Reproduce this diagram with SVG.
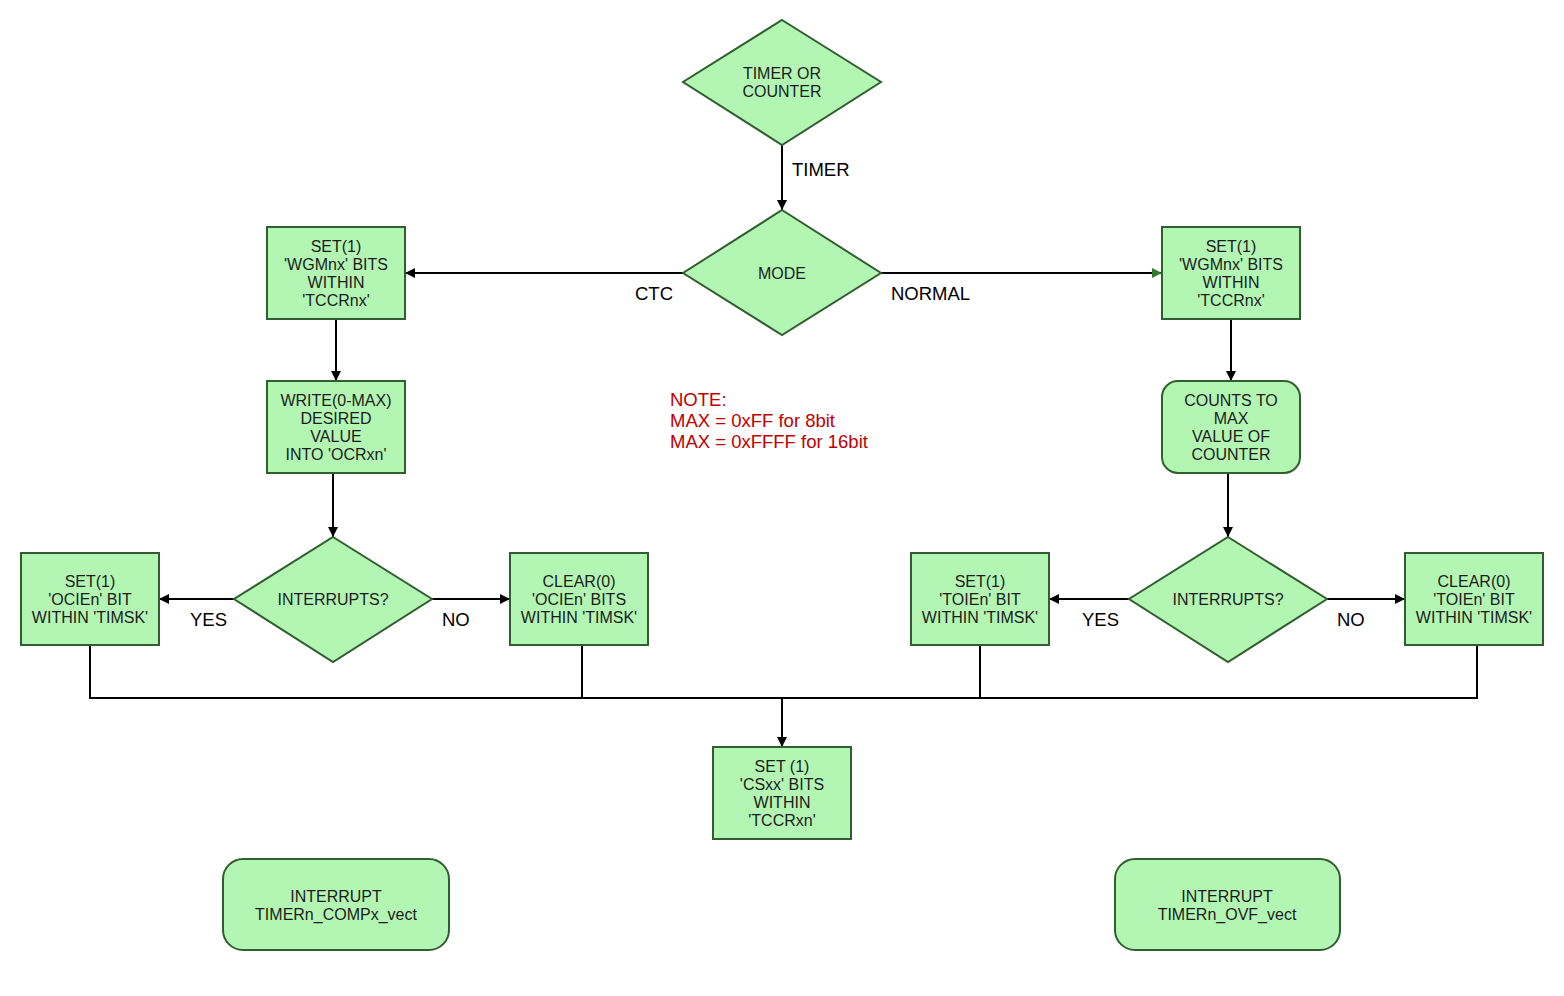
<svg xmlns="http://www.w3.org/2000/svg" width="1564" height="996" viewBox="0 0 1564 996">
<defs>
<marker id="ah" viewBox="0 0 10 10" refX="10" refY="5" markerWidth="10" markerHeight="10" markerUnits="userSpaceOnUse" orient="auto">
<path d="M0,0 L10,5 L0,10 z" fill="#000"/>
</marker>
<marker id="ahg" viewBox="0 0 10 10" refX="10" refY="5" markerWidth="10" markerHeight="10" markerUnits="userSpaceOnUse" orient="auto">
<path d="M0,0 L10,5 L0,10 z" fill="#2f7a2f"/>
</marker>
</defs>
<style>
.n{fill:#b3f6b3;stroke:#2f5f2f;stroke-width:2}
.t{font-family:"Liberation Sans",Arial,sans-serif;font-size:16px;fill:#1c1c1c;text-anchor:middle}
.l{font-family:"Liberation Sans",Arial,sans-serif;font-size:18.5px;fill:#000}
.c{fill:none;stroke:#000;stroke-width:2}
.note{font-family:"Liberation Sans",Arial,sans-serif;font-size:18.5px;fill:#c00000}
</style>
<rect width="1564" height="996" fill="#fff"/>
<g id="connectors">
<line class="c" x1="782" y1="145" x2="782" y2="210" marker-end="url(#ah)"/>
<line class="c" x1="683" y1="273" x2="405" y2="273" marker-end="url(#ah)"/>
<line class="c" x1="881" y1="273" x2="1162" y2="273" marker-end="url(#ahg)"/>
<line class="c" x1="336" y1="319" x2="336" y2="381" marker-end="url(#ah)"/>
<line class="c" x1="1231" y1="319" x2="1231" y2="381" marker-end="url(#ah)"/>
<line class="c" x1="333" y1="473" x2="333" y2="537" marker-end="url(#ah)"/>
<line class="c" x1="1228" y1="473" x2="1228" y2="537" marker-end="url(#ah)"/>
<line class="c" x1="234" y1="599" x2="159" y2="599" marker-end="url(#ah)"/>
<line class="c" x1="432" y1="599" x2="510" y2="599" marker-end="url(#ah)"/>
<line class="c" x1="1129" y1="599" x2="1049" y2="599" marker-end="url(#ah)"/>
<line class="c" x1="1327" y1="599" x2="1405" y2="599" marker-end="url(#ah)"/>
<polyline class="c" points="90,645 90,698 1477,698 1477,645"/>
<line class="c" x1="582" y1="645" x2="582" y2="698"/>
<line class="c" x1="980" y1="645" x2="980" y2="698"/>
<line class="c" x1="782" y1="698" x2="782" y2="747" marker-end="url(#ah)"/>
<text class="l" x="792" y="176">TIMER</text>
<text class="l" x="635" y="300">CTC</text>
<text class="l" x="891" y="300">NORMAL</text>
<text class="l" x="190" y="626">YES</text>
<text class="l" x="442" y="626">NO</text>
<text class="l" x="1082" y="626">YES</text>
<text class="l" x="1337" y="626">NO</text>
</g>
<g id="timer-or-counter">
<polygon class="n" points="782,20 881,82 782,145 683,82"/>
<text class="t" x="782" y="79">TIMER OR</text>
<text class="t" x="782" y="97">COUNTER</text>
</g>
<g id="mode">
<polygon class="n" points="782,210 881,273 782,335 683,273"/>
<text class="t" x="782" y="279">MODE</text>
</g>
<g id="set-wgm-ctc">
<rect class="n" x="267" y="227" width="138" height="92"/>
<text class="t" x="336" y="252">SET(1)</text>
<text class="t" x="336" y="270">'WGMnx' BITS</text>
<text class="t" x="336" y="288">WITHIN</text>
<text class="t" x="336" y="306">'TCCRnx'</text>
</g>
<g id="set-wgm-normal">
<rect class="n" x="1162" y="227" width="138" height="92"/>
<text class="t" x="1231" y="252">SET(1)</text>
<text class="t" x="1231" y="270">'WGMnx' BITS</text>
<text class="t" x="1231" y="288">WITHIN</text>
<text class="t" x="1231" y="306">'TCCRnx'</text>
</g>
<g id="write-ocr">
<rect class="n" x="267" y="381" width="138" height="92"/>
<text class="t" x="336" y="406">WRITE(0-MAX)</text>
<text class="t" x="336" y="424">DESIRED</text>
<text class="t" x="336" y="442">VALUE</text>
<text class="t" x="336" y="460">INTO 'OCRxn'</text>
</g>
<g id="counts-to-max">
<rect class="n" x="1162" y="381" width="138" height="92" rx="16" ry="16"/>
<text class="t" x="1231" y="406">COUNTS TO</text>
<text class="t" x="1231" y="424">MAX</text>
<text class="t" x="1231" y="442">VALUE OF</text>
<text class="t" x="1231" y="460">COUNTER</text>
</g>
<g id="note">
<text class="note" x="670" y="406">NOTE:</text>
<text class="note" x="670" y="427">MAX = 0xFF for 8bit</text>
<text class="note" x="670" y="448">MAX = 0xFFFF for 16bit</text>
</g>
<g id="interrupts-ctc">
<polygon class="n" points="333,537 432,599 333,662 234,599"/>
<text class="t" x="333" y="605">INTERRUPTS?</text>
</g>
<g id="interrupts-normal">
<polygon class="n" points="1228,537 1327,599 1228,662 1129,599"/>
<text class="t" x="1228" y="605">INTERRUPTS?</text>
</g>
<g id="set-ocie">
<rect class="n" x="21" y="553" width="138" height="92"/>
<text class="t" x="90" y="587">SET(1)</text>
<text class="t" x="90" y="605">'OCIEn' BIT</text>
<text class="t" x="90" y="623">WITHIN 'TIMSK'</text>
</g>
<g id="clear-ocie">
<rect class="n" x="510" y="553" width="138" height="92"/>
<text class="t" x="579" y="587">CLEAR(0)</text>
<text class="t" x="579" y="605">'OCIEn' BITS</text>
<text class="t" x="579" y="623">WITHIN 'TIMSK'</text>
</g>
<g id="set-toie">
<rect class="n" x="911" y="553" width="138" height="92"/>
<text class="t" x="980" y="587">SET(1)</text>
<text class="t" x="980" y="605">'TOIEn' BIT</text>
<text class="t" x="980" y="623">WITHIN 'TIMSK'</text>
</g>
<g id="clear-toie">
<rect class="n" x="1405" y="553" width="138" height="92"/>
<text class="t" x="1474" y="587">CLEAR(0)</text>
<text class="t" x="1474" y="605">'TOIEn' BIT</text>
<text class="t" x="1474" y="623">WITHIN 'TIMSK'</text>
</g>
<g id="set-cs">
<rect class="n" x="713" y="747" width="138" height="92"/>
<text class="t" x="782" y="772">SET (1)</text>
<text class="t" x="782" y="790">'CSxx' BITS</text>
<text class="t" x="782" y="808">WITHIN</text>
<text class="t" x="782" y="826">'TCCRxn'</text>
</g>
<g id="isr-comp">
<rect class="n" x="223" y="859" width="226" height="91" rx="20" ry="20"/>
<text class="t" x="336" y="902">INTERRUPT</text>
<text class="t" x="336" y="920">TIMERn_COMPx_vect</text>
</g>
<g id="isr-ovf">
<rect class="n" x="1115" y="859" width="225" height="91" rx="20" ry="20"/>
<text class="t" x="1227" y="902">INTERRUPT</text>
<text class="t" x="1227" y="920">TIMERn_OVF_vect</text>
</g>
</svg>
